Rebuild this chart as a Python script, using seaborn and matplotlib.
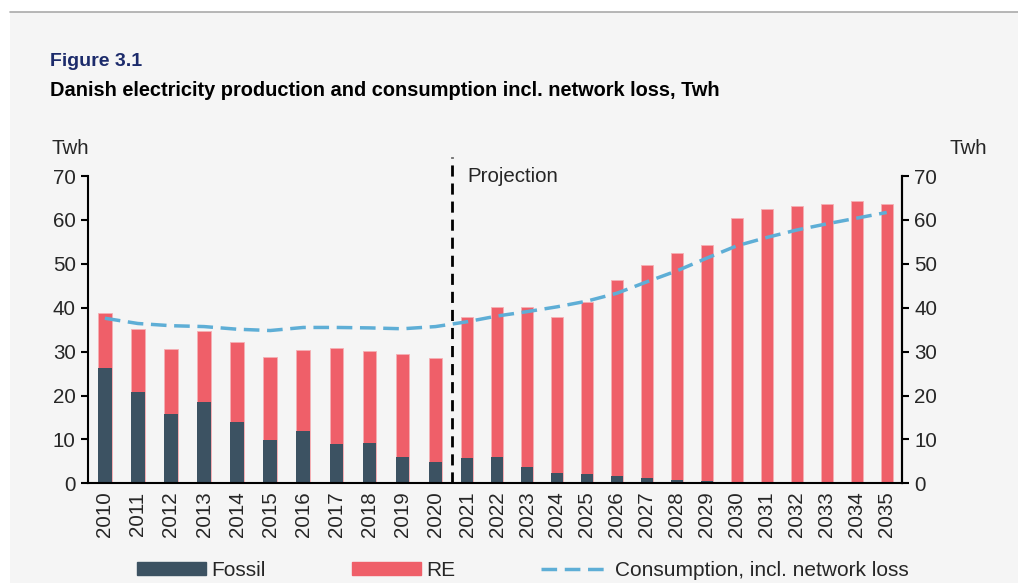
import numpy as np
import pandas as pd
import matplotlib
matplotlib.use("Agg")
import matplotlib.pyplot as plt
import matplotlib.patches as mpatches
import matplotlib.lines as mlines
import seaborn as sns

# data (TWh)
years = [str(y) for y in range(2010, 2036)]
fossil = [26.3, 20.9, 15.7, 18.5, 14.0, 9.8, 11.9, 9.0, 9.2, 6.1, 4.9,
          5.8, 6.0, 3.8, 2.4, 2.2, 1.7, 1.3, 0.8, 0.5, 0.2, 0.1, 0.1, 0.0, 0.0, 0.0]
re = [12.4, 14.2, 14.9, 16.1, 18.1, 19.0, 18.5, 21.9, 21.0, 23.3, 23.7,
      32.0, 34.2, 36.4, 35.4, 39.0, 44.7, 48.4, 51.6, 53.7, 60.3, 62.4, 63.0, 63.6, 64.2, 63.6]
consumption = [37.6, 36.4, 35.9, 35.7, 35.1, 34.8, 35.5, 35.5, 35.4, 35.2, 35.7,
               36.8, 38.1, 39.1, 40.2, 41.5, 43.3, 45.9, 48.4, 51.3, 54.1, 56.0, 57.7, 59.1, 60.4, 61.7]
n_hist = 11  # 2010-2020 are historic, the rest is projection

df = pd.DataFrame({"year": years, "fossil": fossil, "re": re, "consumption": consumption})
df["total"] = df["fossil"] + df["re"]

c_fossil = "#3c5262"
c_re = "#ef5f69"
c_line = "#5eaed6"
bg = "#f5f5f5"
fs = 14.8
dash = (4.5, 2.2)

sns.set_theme(style="white")
plt.rcParams["font.family"] = ["Liberation Sans", "DejaVu Sans"]

fig = plt.figure(figsize=(10.18, 5.83), dpi=100, facecolor="white")
fig.patches.append(mpatches.Rectangle((10 / 1018, 0), 1, 1 - 12 / 583, transform=fig.transFigure,
                                      facecolor=bg, edgecolor="none", zorder=-10))
fig.lines.append(mlines.Line2D([10 / 1018, 1], [1 - 12 / 583, 1 - 12 / 583], transform=fig.transFigure,
                               color="#aaaaaa", lw=1.2))

ax = fig.add_axes([88.3 / 1018, 1 - 483.3 / 583, (901.7 - 88.3) / 1018, (483.3 - 176) / 583])
ax.set_facecolor("none")

# stacked bars: total in RE colour, fossil drawn over it
sns.barplot(data=df, x="year", y="total", color=c_re, width=0.41, saturation=1,
            edgecolor="#f5b0b5", linewidth=0.6, ax=ax)
sns.barplot(data=df, x="year", y="fossil", color=c_fossil, width=0.41, saturation=1,
            linewidth=0, ax=ax)
sns.lineplot(x=np.arange(len(years)), y=df["consumption"], color=c_line, lw=2.5,
             ax=ax, zorder=5)
ax.lines[-1].set_dashes(dash)

# historic years get slightly wider slots than projection years in the original
split = n_hist - 0.5
k = 33.1 / 30.0
def fwd(x):
    x = np.asarray(x, dtype=float)
    return np.where(x < split, split + (x - split) * k, x)
def inv(x):
    x = np.asarray(x, dtype=float)
    return np.where(x < split, split + (x - split) / k, x)
ax.set_xscale("function", functions=(fwd, inv))

ax.set_xlim(-0.5, len(years) - 0.5)
ax.set_ylim(0, 70)
ax.set_yticks(range(0, 71, 10))
ax.set_xlabel("")
ax.set_ylabel("")

ax.set_xticks(np.arange(len(years)))
ax.set_xticklabels(years, rotation=90, fontsize=fs)
ax.set_xticks(np.arange(len(years) + 1) - 0.5, minor=True)
ax.tick_params(axis="x", which="major", length=0, pad=6)
ax.tick_params(axis="x", which="minor", length=5, width=1.5, direction="out", color="black")
ax.tick_params(axis="y", length=5, width=1.5, direction="out", labelsize=fs, color="black", pad=4)
ax.yaxis.set_ticks_position("left")

for s in ["left", "bottom", "right"]:
    ax.spines[s].set_visible(True)
    ax.spines[s].set_color("black")
    ax.spines[s].set_linewidth(1.5)
ax.spines["top"].set_visible(False)

ax2 = ax.twinx()
ax2.set_ylim(0, 70)
ax2.set_yticks(range(0, 71, 10))
ax2.tick_params(axis="y", length=5, width=1.5, direction="out", labelsize=fs, color="black", pad=4)
for s in ["left", "bottom", "top"]:
    ax2.spines[s].set_visible(False)
ax2.spines["right"].set_color("black")
ax2.spines["right"].set_linewidth(1.5)

# projection divider
ax.plot([split, split], [0, 74.3], color="black", lw=2, linestyle=(0, (4, 2.5)), clip_on=False, zorder=6)
ax.text(split + 0.5, 70, "Projection", fontsize=fs, va="center", ha="left")

fig.text(51 / 1018, 1 - 148 / 583, "Twh", fontsize=fs, va="center", ha="left")
fig.text(950 / 1018, 1 - 148 / 583, "Twh", fontsize=fs, va="center", ha="left")

fig.text(50 / 1018, 1 - 61 / 583, "Figure 3.1", fontsize=14, fontweight="bold",
         color="#1c2b6b", va="center", ha="left")
fig.text(50 / 1018, 1 - 90 / 583, "Danish electricity production and consumption incl. network loss, Twh",
         fontsize=14.4, fontweight="bold", color="black", va="center", ha="left")

handles = [mpatches.Patch(color=c_fossil, label="Fossil"),
           mpatches.Patch(color=c_re, label="RE"),
           mlines.Line2D([], [], color=c_line, lw=2.5, dashes=dash, label="Consumption, incl. network loss")]
for h, x0 in zip(handles, [137, 352, 541]):
    fig.legend(handles=[h], loc="center left", bbox_to_anchor=(x0 / 1018, 13 / 583),
               frameon=False, fontsize=15, handlelength=3.3, handleheight=0.6, handletextpad=0.25,
               borderpad=0, borderaxespad=0)

fig.savefig("out.png", dpi=100, facecolor=fig.get_facecolor())
